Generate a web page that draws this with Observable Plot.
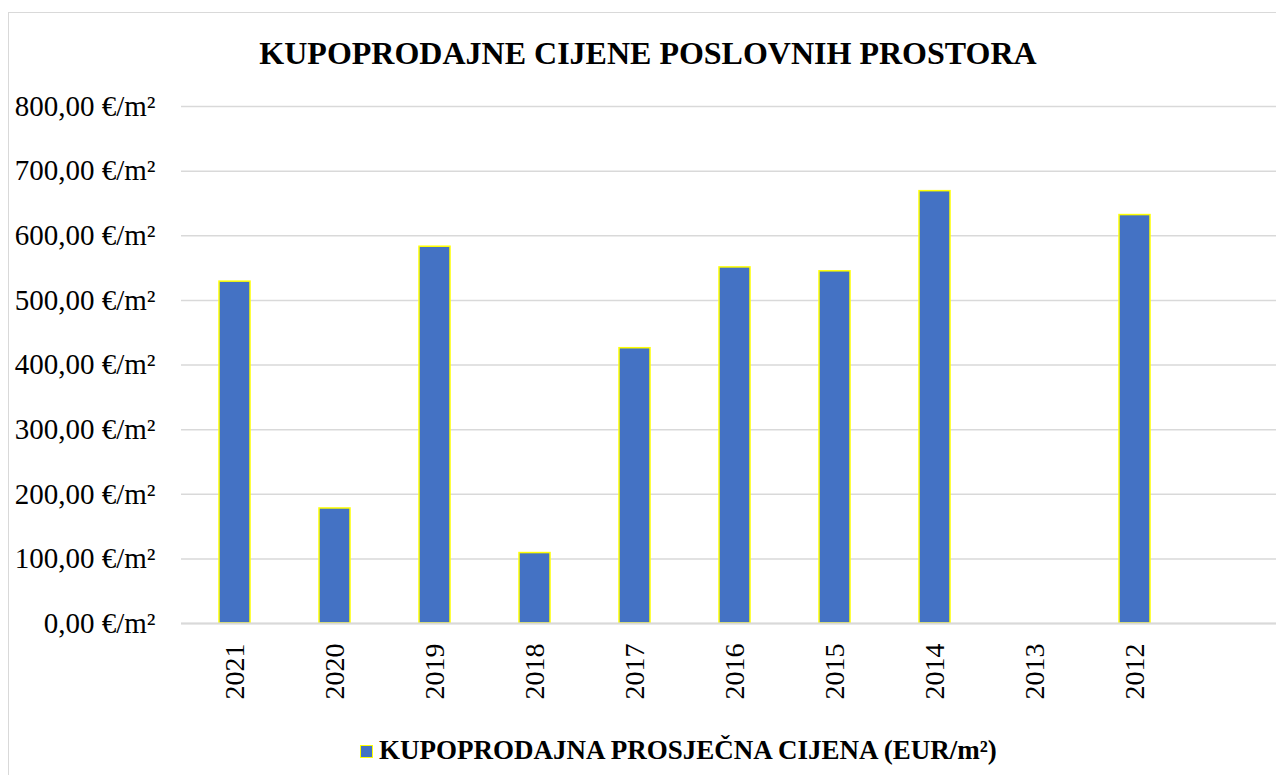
<!DOCTYPE html>
<html>
<head>
<meta charset="utf-8">
<script src="https://cdn.jsdelivr.net/npm/d3@7"></script>
<script src="https://cdn.jsdelivr.net/npm/@observablehq/plot@0.6"></script>
<style>
  html, body { margin: 0; padding: 0; background: #fff; }
  body { width: 1276px; height: 775px; overflow: hidden; position: relative; font-family: "Liberation Serif", "Times New Roman", "DejaVu Serif", serif; }
  #frame { position: absolute; left: 8px; top: 12px; width: 1400px; height: 900px; border: 1.5px solid #d9d9d9; box-sizing: border-box; }
  #title { position: absolute; left: 0; width: 1296px; top: 37px; text-align: center; font-weight: bold; font-size: 32px; line-height: 32px; color: #000; white-space: nowrap; }
  #chart { position: absolute; left: 0; top: 80px; width: 1300px; }
  #legend { position: absolute; left: 360px; top: 737px; display: flex; align-items: center; font-weight: bold; font-size: 27px; line-height: 27px; color: #000; white-space: nowrap; }
  #legend .sw { width: 11px; height: 11px; background: #4472C4; border: 1.5px solid #ffff00; margin-right: 6px; margin-top: 2px; }
</style>
</head>
<body>
<div id="frame"></div>
<div id="title"></div>
<div id="chart"></div>
<div id="legend"><span class="sw"></span><span id="legendText"></span></div>
<script>
const titleText = "KUPOPRODAJNE CIJENE POSLOVNIH PROSTORA";
const seriesName = "KUPOPRODAJNA PROSJEČNA CIJENA (EUR/m²)";
const years = ["2021", "2020", "2019", "2018", "2017", "2016", "2015", "2014", "2013", "2012"];
const prices = [529, 178, 583, 109, 426, 551, 545, 669, null, 632];
const yTicks = [0, 100, 200, 300, 400, 500, 600, 700, 800];

document.getElementById("title").textContent = titleText;
document.getElementById("legendText").textContent = seriesName;

const data = years.map((year, i) => ({year, price: prices[i]})).filter(d => d.price != null);
const fmt = v => v.toFixed(2).replace(".", ",") + " €/m²";
const blue = "#4472C4";
const yellow = "#ffff00";
const grid = "#d9d9d9";

const chart = Plot.plot({
  width: 1288,
  height: 640,
  marginLeft: 181,
  marginRight: 0,
  marginTop: 26,
  marginBottom: 97,
  style: {fontFamily: '"Liberation Serif", "Times New Roman", "DejaVu Serif", serif', color: "#000", background: "transparent", overflow: "visible", maxWidth: "none"},
  x: {domain: years, paddingInner: 0.686, paddingOuter: 0.343, insetRight: 100, label: null},
  y: {domain: [0, 800], label: null},
  marks: [
    Plot.ruleY(yTicks, {stroke: grid, strokeWidth: 1.5}),
    Plot.barY(data, {x: "year", y: "price", fill: blue, stroke: yellow, strokeWidth: 1.5}),
    Plot.ruleY([0], {stroke: grid, strokeWidth: 2}),
    Plot.axisY(yTicks, {tickSize: 0, tickPadding: 26, tickFormat: fmt, fontSize: 29, label: null}),
    Plot.axisX({tickSize: 0, tickPadding: 20, tickRotate: -90, fontSize: 28, label: null})
  ]
});
document.getElementById("chart").appendChild(chart);
</script>
</body>
</html>
